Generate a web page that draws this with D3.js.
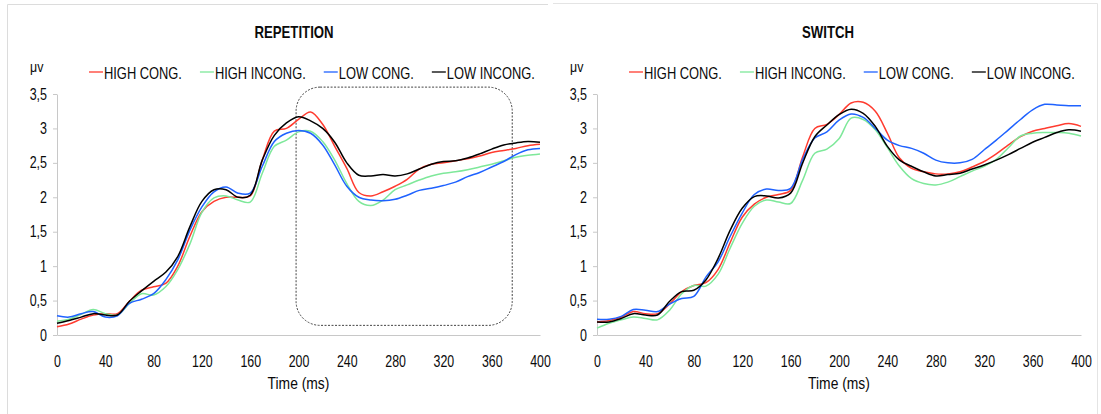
<!DOCTYPE html>
<html>
<head>
<meta charset="utf-8">
<script src="https://cdn.jsdelivr.net/npm/d3@7"></script>
<style>
  body { margin: 0; background: #fff; }
  text { font-family: "Liberation Sans", Arial, sans-serif; fill: #0a0a0a; }
</style>
</head>
<body>
<div id="graph"></div>
<script>
const times = [0,10,20,30,40,50,60,70,80,90,100,110,120,130,140,150,160,170,180,190,200,
  210,220,230,240,250,260,270,280,290,300,310,320,330,340,350,360,370,380,390,400]
const xTicks = [0,40,80,120,160,200,240,280,320,360,400]
const yTicks = [0,0.5,1,1.5,2,2.5,3,3.5]
const seriesNames = ["HIGH CONG.", "HIGH INCONG.", "LOW CONG.", "LOW INCONG."]
const seriesColors = ["#ff3b2f", "#7ee89a", "#1f62ff", "#000000"]

// REPETITION
const repHighCong = [0.12,0.16,0.23,0.29,0.31,0.31,0.49,0.65,0.70,0.75,1.0,1.43,1.79,1.94,2.0,2.0,2.02,2.54,2.96,3.0,
  3.13,3.24,3.06,2.74,2.42,2.07,2.02,2.08,2.16,2.26,2.41,2.48,2.5,2.53,2.56,2.6,2.65,2.68,2.71,2.75,2.77]
const repHighIncong = [0.2,0.23,0.3,0.37,0.31,0.29,0.46,0.6,0.58,0.7,0.95,1.32,1.78,1.99,2.02,1.96,1.93,2.35,2.74,2.83,
  2.95,2.96,2.81,2.54,2.2,1.94,1.88,1.96,2.11,2.18,2.25,2.31,2.35,2.37,2.4,2.44,2.48,2.53,2.58,2.61,2.63]
const repLowCong = [0.28,0.26,0.31,0.34,0.26,0.28,0.46,0.52,0.6,0.8,1.09,1.52,1.86,2.08,2.15,2.06,2.06,2.45,2.81,2.93,
  2.97,2.93,2.76,2.47,2.16,2.0,1.96,1.95,1.97,2.03,2.1,2.13,2.17,2.22,2.3,2.36,2.44,2.52,2.62,2.69,2.71]
const repLowIncong = [0.17,0.21,0.26,0.31,0.29,0.29,0.49,0.64,0.78,0.91,1.14,1.57,1.94,2.11,2.11,2.0,2.03,2.54,2.9,3.08,
  3.17,3.11,3.0,2.8,2.5,2.32,2.31,2.33,2.31,2.34,2.41,2.48,2.52,2.53,2.57,2.63,2.7,2.76,2.79,2.81,2.8]

// SWITCH
const swHighCong = [0.19,0.21,0.26,0.34,0.31,0.31,0.45,0.63,0.72,0.76,0.95,1.34,1.71,1.9,2.0,2.04,2.1,2.59,3.0,3.06,
  3.2,3.37,3.38,3.25,2.93,2.57,2.42,2.37,2.34,2.34,2.37,2.44,2.52,2.63,2.76,2.88,2.96,3.0,3.04,3.07,3.03]
const swHighIncong = [0.1,0.17,0.22,0.26,0.24,0.22,0.36,0.6,0.72,0.71,0.88,1.26,1.62,1.87,1.96,1.93,1.91,2.25,2.64,2.7,
  2.85,3.15,3.13,2.98,2.72,2.45,2.27,2.2,2.18,2.22,2.3,2.38,2.45,2.55,2.72,2.89,2.93,2.94,2.94,2.93,2.89]
const swLowCong = [0.23,0.23,0.27,0.37,0.36,0.34,0.45,0.53,0.56,0.84,1.06,1.43,1.77,2.04,2.12,2.1,2.13,2.55,2.86,2.95,
  3.12,3.21,3.16,3.0,2.83,2.75,2.71,2.64,2.54,2.5,2.5,2.55,2.69,2.83,2.98,3.13,3.27,3.35,3.34,3.33,3.33]
const swLowIncong = [0.19,0.19,0.24,0.31,0.29,0.29,0.49,0.63,0.65,0.8,1.11,1.52,1.84,2.01,2.02,1.99,2.06,2.5,2.88,3.05,
  3.2,3.28,3.22,3.03,2.74,2.54,2.45,2.37,2.31,2.33,2.35,2.41,2.47,2.54,2.62,2.71,2.8,2.87,2.94,2.98,2.96]

// dotted highlight box on REPETITION: [t0, t1, v0, v1]
const repHighlight = [198, 377, 0.14, 3.6]

const W = 1101, H = 414
const svg = d3.select("#graph").append("svg").attr("width", W).attr("height", H)
svg.append("rect").attr("width", W).attr("height", H).attr("fill", "#fff")

// outer frames of the two pasted charts
svg.append("path").attr("d", "M7.5,414 V4.5 H548").attr("fill", "none").attr("stroke", "#dcdcdc")
svg.append("path").attr("d", "M553,3.5 H1097.5 V414").attr("fill", "none").attr("stroke", "#e4e4e4")

const fmt = d => String(d).replace(".", ",")

// squeeze text to look like a narrow face
function narrow(sel, k) {
    sel.each(function() {
        const w = this.getComputedTextLength()
        d3.select(this).attr("textLength", w * k).attr("lengthAdjust", "spacingAndGlyphs")
    })
    return sel
}

function drawPanel(opt) {
    const g = svg.append("g")
    const x = d3.scaleLinear().domain([0, 400]).range([opt.x0, opt.x1])
    const y = d3.scaleLinear().domain([0, 3.5]).range([335, 94])

    narrow(g.append("text").attr("x", opt.titleX).attr("y", 37.5).attr("text-anchor", "middle")
        .attr("font-size", 16.5).attr("font-weight", "bold").text(opt.title), 0.8)

    narrow(g.append("text").attr("x", opt.x0 - 27).attr("y", 72).attr("font-size", 15.5).text("μv"), 0.8)

    // legend
    let lx = opt.legendX
    seriesNames.forEach((name, i) => {
        g.append("line").attr("x1", lx).attr("x2", lx + 14).attr("y1", 72).attr("y2", 72)
            .attr("stroke", seriesColors[i]).attr("stroke-width", 1.3)
        const t = g.append("text").attr("x", lx + 15).attr("y", 78.5).attr("font-size", 16.5).text(name)
        narrow(t, 0.78)
        lx += 15 + +t.attr("textLength") + 18
    })

    // y axis
    const ya = g.append("g").attr("transform", `translate(${opt.x0},0)`)
        .call(d3.axisLeft(y).tickValues(yTicks).tickSize(4).tickSizeOuter(0).tickPadding(6).tickFormat(fmt))
    ya.select(".domain").attr("stroke", "#c8c8c8")
    ya.selectAll(".tick line").attr("stroke", "#c8c8c8")
    ya.selectAll(".tick text").attr("font-size", 16).attr("fill", "#0a0a0a")
        .attr("font-family", "'Liberation Sans', Arial, sans-serif")
    narrow(ya.selectAll(".tick text"), 0.78)

    // x axis
    const xa = g.append("g").attr("transform", "translate(0,335)")
        .call(d3.axisBottom(x).tickValues(xTicks).tickSize(0).tickPadding(20))
    xa.select(".domain").attr("stroke", "#c8c8c8")
    xa.selectAll(".tick text").attr("font-size", 16.5).attr("fill", "#0a0a0a")
        .attr("font-family", "'Liberation Sans', Arial, sans-serif")
    narrow(xa.selectAll(".tick text"), 0.75)

    narrow(g.append("text").attr("x", x(200)).attr("y", 389).attr("text-anchor", "middle")
        .attr("font-size", 16.5).text("Time (ms)"), 0.84)

    if (opt.box) {
        const [t0, t1, v0, v1] = opt.box
        g.append("rect").attr("x", x(t0)).attr("y", y(v1))
            .attr("width", x(t1) - x(t0)).attr("height", y(v0) - y(v1))
            .attr("rx", 24).attr("ry", 24)
            .attr("fill", "none").attr("stroke", "#444").attr("stroke-width", 1)
            .attr("stroke-dasharray", "2,1.5")
    }

    const line = d3.line().x((d, i) => x(times[i])).y(d => y(d)).curve(d3.curveCatmullRom.alpha(0.5))
    opt.series.forEach((s, i) => {
        g.append("path").datum(s).attr("fill", "none")
            .attr("stroke", seriesColors[i]).attr("stroke-width", 1.5)
            .attr("d", line)
    })
}

drawPanel({
    title: "REPETITION", titleX: 294, x0: 57, x1: 540, legendX: 89,
    series: [repHighCong, repHighIncong, repLowCong, repLowIncong], box: repHighlight
})
drawPanel({
    title: "SWITCH", titleX: 828, x0: 597, x1: 1081, legendX: 629,
    series: [swHighCong, swHighIncong, swLowCong, swLowIncong]
})
</script>
</body>
</html>
